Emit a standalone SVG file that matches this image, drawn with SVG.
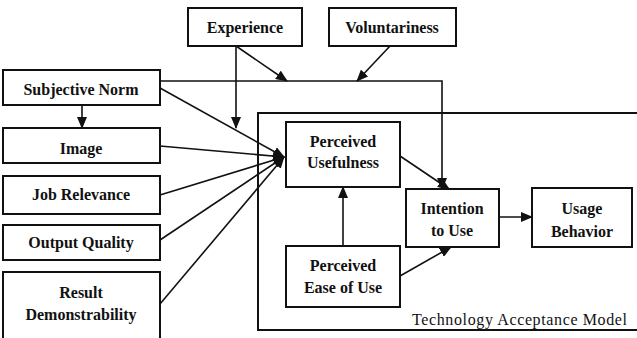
<svg xmlns="http://www.w3.org/2000/svg" width="637" height="338" viewBox="0 0 637 338">
<style>
.box{fill:#fff;stroke:#111;stroke-width:2}
.lbl{font-family:"Liberation Serif","Times New Roman",serif;font-weight:bold;font-size:16px;fill:#111;text-anchor:middle}
.cap{font-family:"Liberation Serif","Times New Roman",serif;font-size:16px;fill:#111}
.ln{fill:none;stroke:#111;stroke-width:1.6}
</style>
<defs>
<marker id="ah" markerUnits="userSpaceOnUse" markerWidth="12" markerHeight="10" viewBox="0 0 12 10" refX="11" refY="5" orient="auto">
<path d="M0,0 L12,5 L0,10 Z" fill="#111"/>
</marker>
</defs>
<rect x="0" y="0" width="637" height="338" fill="#fff"/>
<g id="tam">
<rect class="box" x="258" y="113" width="390" height="217"/>
<text class="cap" x="412" y="325" textLength="215" lengthAdjust="spacing">Technology Acceptance Model</text>
</g>
<g id="connectors">
<line class="ln" x1="160" y1="88" x2="284" y2="157" marker-end="url(#ah)"/>
<line class="ln" x1="160" y1="146" x2="284" y2="157" marker-end="url(#ah)"/>
<line class="ln" x1="160" y1="195" x2="284" y2="157" marker-end="url(#ah)"/>
<line class="ln" x1="160" y1="240" x2="284" y2="157" marker-end="url(#ah)"/>
<line class="ln" x1="160" y1="304" x2="284" y2="157" marker-end="url(#ah)"/>
<line class="ln" x1="236" y1="46" x2="236" y2="128" marker-end="url(#ah)"/>
<line class="ln" x1="236" y1="46" x2="287" y2="81" marker-end="url(#ah)"/>
<line class="ln" x1="390" y1="46" x2="357" y2="81" marker-end="url(#ah)"/>
<polyline class="ln" points="160,81 442,81 442,189" marker-end="url(#ah)"/>
<line class="ln" x1="82" y1="105" x2="82" y2="128" marker-end="url(#ah)"/>
<line class="ln" x1="400" y1="156" x2="449" y2="189" marker-end="url(#ah)"/>
<line class="ln" x1="343" y1="246" x2="343" y2="187" marker-end="url(#ah)"/>
<line class="ln" x1="400" y1="276" x2="451" y2="247" marker-end="url(#ah)"/>
<line class="ln" x1="499" y1="217" x2="532" y2="217" stroke-width="2.2" marker-end="url(#ah)"/>
</g>
<g id="experience">
<rect class="box" x="188" y="8" width="114" height="38"/>
<text class="lbl" x="245" y="33">Experience</text>
</g>
<g id="voluntariness">
<rect class="box" x="329" y="8" width="127" height="38"/>
<text class="lbl" x="392" y="33">Voluntariness</text>
</g>
<g id="subjective-norm">
<rect class="box" x="3" y="70" width="157" height="35"/>
<text class="lbl" x="81" y="95">Subjective Norm</text>
</g>
<g id="image">
<rect class="box" x="3" y="128" width="157" height="35"/>
<text class="lbl" x="81" y="154">Image</text>
</g>
<g id="job-relevance">
<rect class="box" x="3" y="176" width="157" height="38"/>
<text class="lbl" x="81" y="200">Job Relevance</text>
</g>
<g id="output-quality">
<rect class="box" x="3" y="225" width="157" height="35"/>
<text class="lbl" x="81" y="248">Output Quality</text>
</g>
<g id="result-demonstrability">
<rect class="box" x="3" y="272" width="157" height="70"/>
<text class="lbl" x="81" y="298">Result</text>
<text class="lbl" x="81" y="320">Demonstrability</text>
</g>
<g id="perceived-usefulness">
<rect class="box" x="286" y="122" width="114" height="65"/>
<text class="lbl" x="343" y="147">Perceived</text>
<text class="lbl" x="343" y="168">Usefulness</text>
</g>
<g id="perceived-ease-of-use">
<rect class="box" x="286" y="246" width="114" height="61"/>
<text class="lbl" x="343" y="271">Perceived</text>
<text class="lbl" x="343" y="293">Ease of Use</text>
</g>
<g id="intention-to-use">
<rect class="box" x="406" y="189" width="93" height="58"/>
<text class="lbl" x="452" y="214">Intention</text>
<text class="lbl" x="452" y="236">to Use</text>
</g>
<g id="usage-behavior">
<rect class="box" x="532" y="188" width="100" height="59"/>
<text class="lbl" x="582" y="214">Usage</text>
<text class="lbl" x="582" y="237">Behavior</text>
</g>
</svg>
